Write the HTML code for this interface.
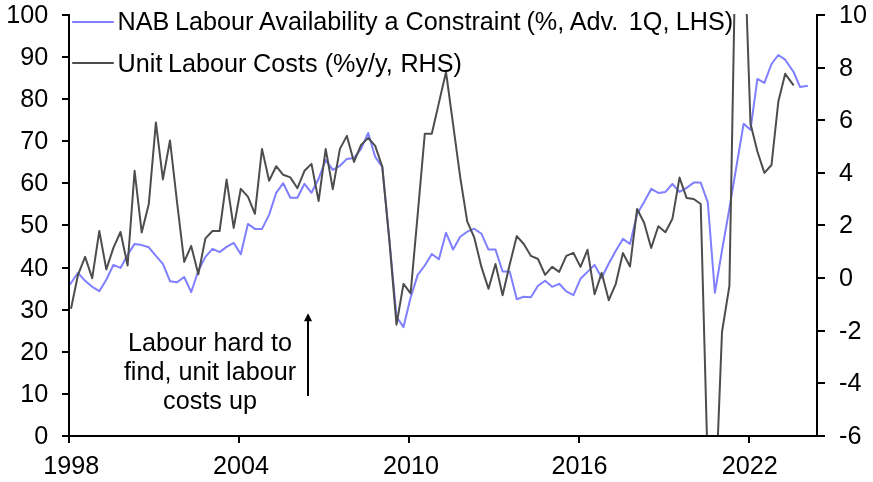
<!DOCTYPE html><html><head><meta charset="utf-8"><title>Chart</title>
<style>html,body{margin:0;padding:0;background:#fff;overflow:hidden}svg{display:block;will-change:transform}text{font-family:"Liberation Sans",Arial,sans-serif;font-size:25.2px;fill:#000}</style></head><body>
<svg width="873" height="482" viewBox="0 0 873 482">
<rect width="873" height="482" fill="#fff"/>
<defs><clipPath id="c"><rect x="69.0" y="14.0" width="748.0" height="422.0"/></clipPath></defs>
<g clip-path="url(#c)" fill="none" stroke-linejoin="round">
<polyline stroke="#7f7fff" stroke-width="2" points="69.8,284.7 71.0,283.0 78.0,272.8 85.1,280.8 92.2,286.8 99.3,291.2 106.3,279.8 113.4,264.9 120.5,267.9 127.6,254.9 134.6,243.9 141.7,245.1 148.8,247.3 155.9,255.9 162.9,263.9 170.0,281.2 177.1,282.2 184.2,277.0 191.2,292.2 198.3,270.8 205.4,256.9 212.5,248.9 219.6,252.1 226.6,246.9 233.7,242.9 240.8,254.2 247.9,223.9 254.9,228.9 262.0,228.9 269.1,214.9 276.2,192.8 283.2,183.2 290.3,197.7 297.4,197.7 304.5,183.8 311.5,192.8 318.6,178.8 325.7,159.9 332.8,169.8 339.9,165.8 346.9,158.9 354.0,157.9 361.1,148.9 368.2,133.0 375.2,156.9 382.3,166.8 389.4,240.0 396.5,316.7 403.5,327.1 410.6,297.6 417.7,274.9 424.8,265.5 431.8,254.0 438.9,259.3 446.0,232.7 453.1,249.5 460.2,236.7 467.2,231.7 474.3,228.7 481.4,233.7 488.5,249.6 495.5,249.6 502.6,271.5 509.7,271.5 516.8,299.2 523.8,296.8 530.9,297.2 538.0,285.8 545.1,280.8 552.1,286.8 559.2,283.8 566.3,291.4 573.4,295.2 580.5,278.8 587.5,271.9 594.6,264.9 601.7,277.8 608.8,263.5 615.8,250.8 622.9,238.9 630.0,244.0 637.1,213.9 644.1,201.9 651.2,188.9 658.3,192.9 665.4,191.9 672.4,184.0 679.5,191.9 686.6,187.9 693.7,182.6 700.7,182.6 707.8,202.4 714.9,292.8 722.0,250.5 729.4,208.3 736.5,166.0 743.6,123.8 750.5,129.7 757.4,78.9 764.4,82.8 771.5,64.0 778.3,55.0 785.2,59.7 793.6,72.0 800.0,86.9 807.8,85.7"/>
<polyline stroke="#4d4d4d" stroke-width="2" points="71.0,308.7 78.0,274.8 85.1,256.9 92.2,278.2 99.3,231.0 106.3,269.4 113.4,247.9 120.5,232.0 127.6,265.5 134.6,170.8 141.7,232.4 148.8,204.1 155.9,122.4 162.9,179.4 170.0,140.5 177.1,202.7 184.2,261.9 191.2,245.9 198.3,274.2 205.4,238.4 212.5,231.0 219.6,231.0 226.6,179.6 233.7,227.9 240.8,188.8 247.9,196.7 254.9,213.8 262.0,148.9 269.1,180.8 276.2,166.2 283.2,174.8 290.3,177.4 297.4,188.2 304.5,170.8 311.5,163.9 318.6,201.1 325.7,148.9 332.8,189.2 339.9,148.9 346.9,135.9 354.0,161.9 361.1,144.9 368.2,137.9 375.2,145.9 382.3,166.8 389.4,241.0 396.5,324.7 403.5,283.9 410.6,293.4 417.7,214.3 424.8,133.7 431.8,133.7 438.9,102.9 446.0,72.0 453.1,124.4 460.2,177.1 467.2,221.4 474.3,237.7 481.4,266.9 488.5,288.8 495.5,263.9 502.6,295.2 509.7,264.5 516.8,236.1 523.8,244.0 530.9,255.9 538.0,259.0 545.1,274.8 552.1,266.9 559.2,271.9 566.3,255.8 573.4,252.8 580.5,266.9 587.5,249.8 594.6,294.2 601.7,272.9 608.8,300.2 615.8,283.8 622.9,253.0 630.0,266.5 637.1,208.9 644.1,222.8 651.2,248.0 658.3,226.2 665.4,232.2 672.4,218.8 679.5,177.6 686.6,197.9 693.7,199.0 700.7,204.0 707.8,470.0 714.9,513.0 722.0,332.0 729.4,285.9 736.5,-107.0 743.6,-79.0 750.5,123.8 757.4,151.5 764.4,172.9 771.5,165.0 778.3,101.8 785.2,73.8 793.6,85.4"/>
</g>
<g stroke="#000" stroke-width="2" fill="none">
<path d="M69.00 14.00V437.00"/>
<path d="M817.00 14.00V437.00"/>
<path d="M62.00 436.00H825.00"/>
<path d="M62.00 394.00H69.00"/>
<path d="M62.00 352.00H69.00"/>
<path d="M62.00 310.00H69.00"/>
<path d="M62.00 268.00H69.00"/>
<path d="M62.00 225.00H69.00"/>
<path d="M62.00 183.00H69.00"/>
<path d="M62.00 141.00H69.00"/>
<path d="M62.00 99.00H69.00"/>
<path d="M62.00 57.00H69.00"/>
<path d="M62.00 15.00H69.00"/>
<path d="M817.00 383.00H825.00"/>
<path d="M817.00 331.00H825.00"/>
<path d="M817.00 278.00H825.00"/>
<path d="M817.00 225.00H825.00"/>
<path d="M817.00 173.00H825.00"/>
<path d="M817.00 120.00H825.00"/>
<path d="M817.00 68.00H825.00"/>
<path d="M817.00 15.00H825.00"/>
<path d="M69.00 436.00V443.00"/>
<path d="M239.00 436.00V443.00"/>
<path d="M409.00 436.00V443.00"/>
<path d="M579.00 436.00V443.00"/>
<path d="M749.00 436.00V443.00"/>
</g>
<text x="48.3" y="443.7" text-anchor="end">0</text>
<text x="48.3" y="401.7" text-anchor="end">10</text>
<text x="48.3" y="359.7" text-anchor="end">20</text>
<text x="48.3" y="317.7" text-anchor="end">30</text>
<text x="48.3" y="275.7" text-anchor="end">40</text>
<text x="48.3" y="232.7" text-anchor="end">50</text>
<text x="48.3" y="190.7" text-anchor="end">60</text>
<text x="48.3" y="148.7" text-anchor="end">70</text>
<text x="48.3" y="106.7" text-anchor="end">80</text>
<text x="48.3" y="64.7" text-anchor="end">90</text>
<text x="48.3" y="22.7" text-anchor="end">100</text>
<text x="839" y="443.7">-6</text>
<text x="839" y="390.7">-4</text>
<text x="839" y="338.7">-2</text>
<text x="839" y="285.7">0</text>
<text x="839" y="232.7">2</text>
<text x="839" y="180.7">4</text>
<text x="839" y="127.7">6</text>
<text x="839" y="75.7">8</text>
<text x="839" y="22.7">10</text>
<text x="71.2" y="473.7" text-anchor="middle">1998</text>
<text x="240.9" y="473.7" text-anchor="middle">2004</text>
<text x="410.9" y="473.7" text-anchor="middle">2010</text>
<text x="579.4" y="473.7" text-anchor="middle">2016</text>
<text x="749.8" y="473.7" text-anchor="middle">2022</text>
<path d="M72.2 22H113.8" stroke="#7f7fff" stroke-width="2"/>
<path d="M72.2 63H113.8" stroke="#4d4d4d" stroke-width="2"/>
<text y="30"><tspan x="117.6">NAB </tspan><tspan x="175.0">Labour </tspan><tspan x="259.1">Availability </tspan><tspan x="384.5">a </tspan><tspan x="405.6">Constraint </tspan><tspan x="526.4">(%, </tspan><tspan x="569.8">Adv. </tspan><tspan x="628.8">1Q, </tspan><tspan x="675.8">LHS)</tspan></text>
<text y="71.8"><tspan x="117.6">Unit </tspan><tspan x="168.0">Labour </tspan><tspan x="253.1">Costs </tspan><tspan x="324.7">(%y/y, </tspan><tspan x="400.4">RHS)</tspan></text>
<text x="210" y="350.5" text-anchor="middle">Labour hard to</text>
<text x="210" y="379.7" text-anchor="middle">find, unit labour</text>
<text x="210" y="408.6" text-anchor="middle">costs up</text>
<path d="M308 395.9V320" stroke="#000" stroke-width="2"/>
<path d="M308.05 313.2L304 321.2H312.1Z" fill="#000"/>
</svg></body></html>
